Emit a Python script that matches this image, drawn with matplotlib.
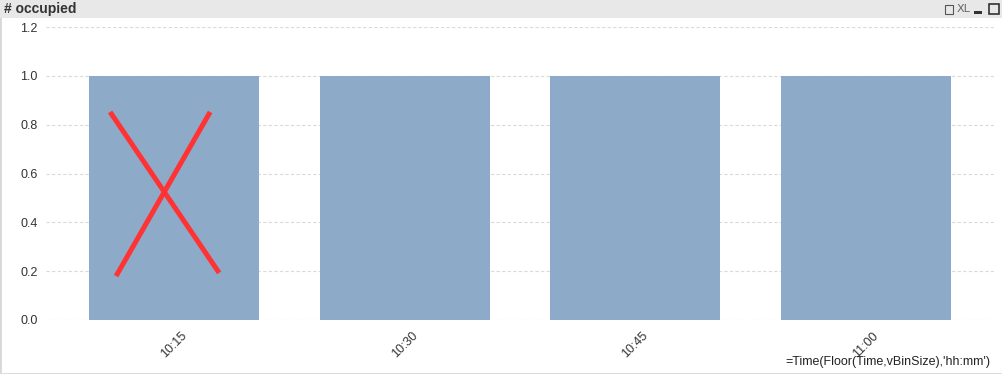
import matplotlib.pyplot as plt
from matplotlib.patches import Rectangle

# data
times = ['10:15', '10:30', '10:45', '11:00']
occupied = [1.0, 1.0, 1.0, 1.0]
y_ticks = [0.0, 0.2, 0.4, 0.6, 0.8, 1.0, 1.2]

# red cross drawn over the first bar (data coords)
cross_a_x = [-0.278, 0.195]
cross_a_y = [0.852, 0.193]
cross_b_x = [-0.252, 0.156]
cross_b_y = [0.180, 0.852]

W, H = 1003, 374
fig = plt.figure(figsize=(W / 100, H / 100), dpi=100)
fig.patch.set_facecolor('white')

# window frame and caption bar
fig.patches.append(Rectangle((0, 0), 1, 1, transform=fig.transFigure,
                             fill=False, edgecolor='#d8d8d8', lw=2))
fig.patches.append(Rectangle((0, 1 - 18 / H), 1, 18 / H, transform=fig.transFigure,
                             facecolor='#e8e8e8', edgecolor='none'))
fig.text(4 / W, 1 - 9 / H, '# occupied', ha='left', va='center',
         fontsize=10, fontweight='bold', color='#333333', family='Liberation Sans')
# caption icons: print, XL, minimize, maximize
fig.patches.append(Rectangle((945 / W, 1 - 14 / H), 8 / W, 9 / H, transform=fig.transFigure,
                             fill=False, edgecolor='#555555', lw=0.8))
fig.text(964 / W, 1 - 9 / H, 'XL', ha='center', va='center',
         fontsize=8, color='#666666', family='Liberation Sans Narrow')
fig.patches.append(Rectangle((974 / W, 1 - 14 / H), 8 / W, 3 / H, transform=fig.transFigure,
                             facecolor='#333333', edgecolor='none'))
fig.patches.append(Rectangle((989 / W, 1 - 14 / H), 10 / W, 10 / H, transform=fig.transFigure,
                             fill=False, edgecolor='#333333', lw=1.2))

# plot area
ax = fig.add_axes([46 / W, 1 - 320 / H, (994 - 46) / W, (320 - 27) / H])
ax.bar(range(len(times)), occupied, width=0.7375, color='#8eaac9', zorder=2)
ax.plot(cross_a_x, cross_a_y, color='#ff3333', lw=3.6, solid_capstyle='butt', zorder=3)
ax.plot(cross_b_x, cross_b_y, color='#ff3333', lw=3.6, solid_capstyle='butt', zorder=3)

ax.set_xlim(-0.556, 3.556)
ax.set_ylim(0, 1.2)
ax.set_yticks(y_ticks)
ax.set_yticklabels([f'{v:.1f}' for v in y_ticks])
ax.set_xticks(range(len(times)))
ax.set_xticklabels(times, rotation=45, ha='center', va='top')

ax.grid(axis='y', color='#dadada', linestyle=(0, (3, 2)), lw=0.8, zorder=0)
ax.set_axisbelow(True)
for s in ax.spines.values():
    s.set_visible(False)
ax.tick_params(length=0, labelsize=9, labelcolor='#333333')
ax.tick_params(axis='y', pad=6)
ax.tick_params(axis='x', pad=7)
for lbl in ax.get_xticklabels() + ax.get_yticklabels():
    lbl.set_family('Liberation Sans')

fig.text(990 / W, 1 - 362 / H, "=Time(Floor(Time,vBinSize),'hh:mm')",
         ha='right', va='center', fontsize=9, color='#222222', family='Liberation Sans')

fig.savefig('out.png', dpi=100)
